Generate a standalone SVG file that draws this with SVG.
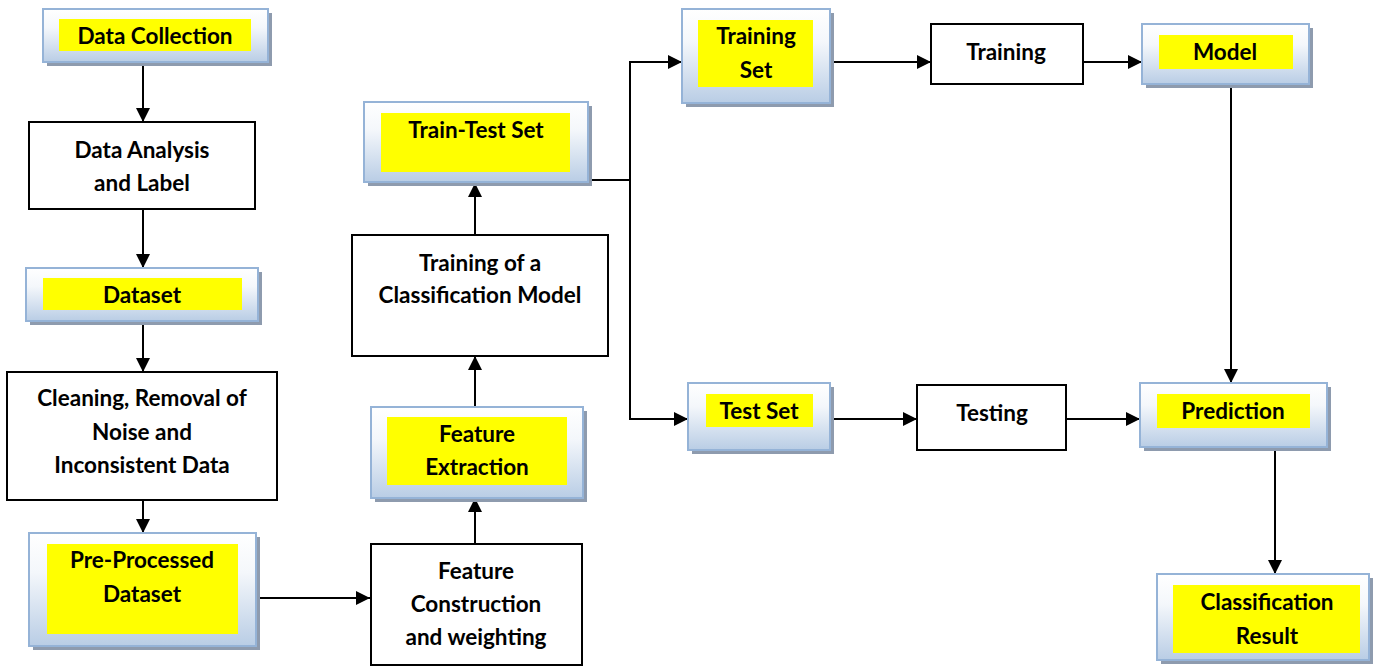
<svg xmlns="http://www.w3.org/2000/svg" width="1382" height="666" viewBox="0 0 1382 666">
<defs>
<linearGradient id="g" x1="0" y1="0" x2="0" y2="1">
<stop offset="0" stop-color="#ffffff"/>
<stop offset="0.35" stop-color="#f4f7fb"/>
<stop offset="1" stop-color="#b9cde5"/>
</linearGradient>
<marker id="ah" markerUnits="userSpaceOnUse" markerWidth="14" markerHeight="14" viewBox="0 0 14 14" refX="14" refY="7" orient="auto">
<path d="M0,0 L14,7 L0,14 Z" fill="#000"/>
</marker>
<style>
.shadow{fill:#8e9bae}
.gbox{fill:url(#g);stroke:#95b3d7;stroke-width:2}
.yel{fill:#ffff00}
.wbox{fill:#fff;stroke:#000;stroke-width:2}
text{font-family:Lato,"Liberation Sans",sans-serif;font-weight:bold;font-size:22.5px;fill:#000;text-anchor:middle;dominant-baseline:central}
.conn path{fill:none;stroke:#000;stroke-width:2}
</style>
</defs>
<rect width="1382" height="666" fill="#fff"/>

<g class="conn" id="connectors">
<path d="M143,62 L143,122" marker-end="url(#ah)"/>
<path d="M143,209 L143,268" marker-end="url(#ah)"/>
<path d="M143,321 L143,372" marker-end="url(#ah)"/>
<path d="M143,500 L143,533" marker-end="url(#ah)"/>
<path d="M256,598 L370,598" marker-end="url(#ah)"/>
<path d="M475,544 L475,498" marker-end="url(#ah)"/>
<path d="M475,407 L475,356" marker-end="url(#ah)"/>
<path d="M475,235 L475,183" marker-end="url(#ah)"/>
<path d="M588,180 L630,180"/>
<path d="M630,180 L630,62 L682,62" marker-end="url(#ah)"/>
<path d="M630,180 L630,419 L688,419" marker-end="url(#ah)"/>
<path d="M830,62 L931,62" marker-end="url(#ah)"/>
<path d="M1083,62 L1142,62" marker-end="url(#ah)"/>
<path d="M830,419 L917,419" marker-end="url(#ah)"/>
<path d="M1066,419 L1140,419" marker-end="url(#ah)"/>
<path d="M1231,84 L1231,383" marker-end="url(#ah)"/>
<path d="M1275,447 L1275,574" marker-end="url(#ah)"/>
</g>

<g id="data-collection">
<rect class="shadow" x="47" y="13" width="225" height="53"/>
<rect class="gbox" x="43" y="9" width="225" height="53"/>
<rect class="yel" x="59" y="19" width="192" height="32"/>
<text x="155" y="35">Data Collection</text>
</g>

<g id="data-analysis">
<rect class="wbox" x="29" y="122" width="226" height="87"/>
<text x="142" y="149">Data Analysis</text>
<text x="142" y="182">and Label</text>
</g>

<g id="dataset">
<rect class="shadow" x="30" y="272" width="232" height="53"/>
<rect class="gbox" x="26" y="268" width="232" height="53"/>
<rect class="yel" x="43" y="278" width="199" height="32"/>
<text x="142" y="294">Dataset</text>
</g>

<g id="cleaning">
<rect class="wbox" x="7" y="372" width="270" height="128"/>
<text x="142" y="397">Cleaning, Removal of</text>
<text x="142" y="431">Noise and</text>
<text x="142" y="464">Inconsistent Data</text>
</g>

<g id="preprocessed">
<rect class="shadow" x="33" y="537" width="227" height="113"/>
<rect class="gbox" x="29" y="533" width="227" height="113"/>
<rect class="yel" x="47" y="544" width="191" height="90"/>
<text x="142" y="559">Pre-Processed</text>
<text x="142" y="593">Dataset</text>
</g>

<g id="feature-construction">
<rect class="wbox" x="371" y="544" width="211" height="121"/>
<text x="476" y="570">Feature</text>
<text x="476" y="603">Construction</text>
<text x="476" y="636">and weighting</text>
</g>

<g id="feature-extraction">
<rect class="shadow" x="375" y="411" width="212" height="91"/>
<rect class="gbox" x="371" y="407" width="212" height="91"/>
<rect class="yel" x="387" y="417" width="180" height="68"/>
<text x="477" y="433">Feature</text>
<text x="477" y="466">Extraction</text>
</g>

<g id="training-classification-model">
<rect class="wbox" x="352" y="235" width="256" height="121"/>
<text x="480" y="262">Training of a</text>
<text x="480" y="294">Classification Model</text>
</g>

<g id="train-test-set">
<rect class="shadow" x="368" y="106" width="224" height="80"/>
<rect class="gbox" x="364" y="102" width="224" height="80"/>
<rect class="yel" x="381" y="113" width="189" height="59"/>
<text x="476" y="129">Train-Test Set</text>
</g>

<g id="training-set">
<rect class="shadow" x="686" y="13" width="148" height="94"/>
<rect class="gbox" x="682" y="9" width="148" height="94"/>
<rect class="yel" x="698" y="20" width="115" height="67"/>
<text x="756" y="35">Training</text>
<text x="756" y="69">Set</text>
</g>

<g id="training">
<rect class="wbox" x="931" y="24" width="152" height="60"/>
<text x="1006" y="51">Training</text>
</g>

<g id="model">
<rect class="shadow" x="1146" y="28" width="167" height="60"/>
<rect class="gbox" x="1142" y="24" width="167" height="60"/>
<rect class="yel" x="1159" y="35" width="134" height="34"/>
<text x="1225" y="51">Model</text>
</g>

<g id="test-set">
<rect class="shadow" x="692" y="387" width="142" height="67"/>
<rect class="gbox" x="688" y="383" width="142" height="67"/>
<rect class="yel" x="706" y="394" width="107" height="33"/>
<text x="759" y="410">Test Set</text>
</g>

<g id="testing">
<rect class="wbox" x="917" y="385" width="149" height="65"/>
<text x="992" y="412">Testing</text>
</g>

<g id="prediction">
<rect class="shadow" x="1144" y="387" width="187" height="64"/>
<rect class="gbox" x="1140" y="383" width="187" height="64"/>
<rect class="yel" x="1157" y="394" width="153" height="34"/>
<text x="1233" y="410">Prediction</text>
</g>

<g id="classification-result">
<rect class="shadow" x="1161" y="578" width="212" height="86"/>
<rect class="gbox" x="1157" y="574" width="212" height="86"/>
<rect class="yel" x="1173" y="585" width="187" height="68"/>
<text x="1267" y="601">Classification</text>
<text x="1267" y="635">Result</text>
</g>
</svg>
